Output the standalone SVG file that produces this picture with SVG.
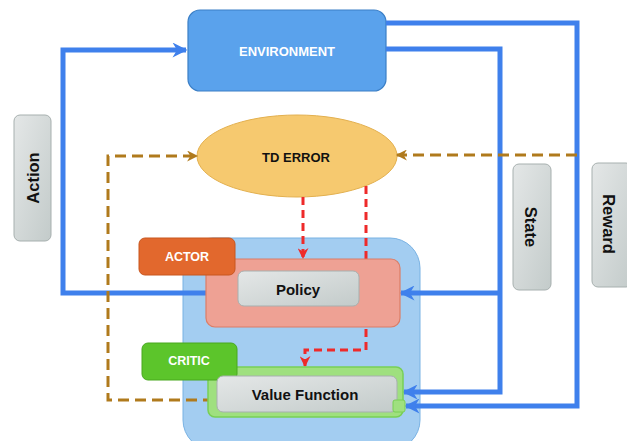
<svg xmlns="http://www.w3.org/2000/svg" width="627" height="441" viewBox="0 0 627 441">
<defs>
<linearGradient id="gray" x1="0" y1="0" x2="1" y2="1"><stop offset="0" stop-color="#e4e7e7"/><stop offset="1" stop-color="#c3cbca"/></linearGradient>
<marker id="ab" viewBox="0 0 10 10" refX="9" refY="5" markerWidth="16" markerHeight="15" markerUnits="userSpaceOnUse" orient="auto"><path d="M0,0 L10,5 L0,10 L3,5 Z" fill="#3f80ec"/></marker>
<marker id="ao" viewBox="0 0 10 10" refX="9" refY="5" markerWidth="12" markerHeight="11" markerUnits="userSpaceOnUse" orient="auto"><path d="M0,0 L10,5 L0,10 L3,5 Z" fill="#b07a1c"/></marker>
<marker id="ar" viewBox="0 0 10 10" refX="9" refY="5" markerWidth="11" markerHeight="11" markerUnits="userSpaceOnUse" orient="auto"><path d="M0,0 L10,5 L0,10 L3,5 Z" fill="#ee2a2a"/></marker>
</defs>
<style>
text{font-family:"Liberation Sans",Arial,sans-serif;font-weight:bold;text-anchor:middle;dominant-baseline:central}
.w{fill:#fff}
.k{fill:#111}
.gbox{fill:url(#gray);stroke:#a7b0af;stroke-width:1}
.blue{fill:none;stroke:#3f80ec;stroke-width:5;marker-end:url(#ab)}
.brown{fill:none;stroke:#b07a1c;stroke-width:3;stroke-dasharray:11 6;marker-end:url(#ao)}
.red{fill:none;stroke:#ee2a2a;stroke-width:3;stroke-dasharray:8 5;marker-end:url(#ar)}
</style>
<rect x="0" y="0" width="627" height="441" fill="#ffffff"/>
<g id="container"><rect x="183" y="238" width="237" height="212" rx="30" fill="#a3cdf1" stroke="#79b2e3" stroke-width="1"/></g>
<g id="environment"><rect x="188" y="10" width="198" height="81" rx="12" fill="#5aa2ec" stroke="#3b7fc6" stroke-width="1.2"/><text class="w" x="287" y="51" font-size="13">ENVIRONMENT</text></g>
<g id="td-error"><ellipse cx="297" cy="156" rx="100" ry="41" fill="#f6c96f" stroke="#e3b04f" stroke-width="1"/><text class="k" x="296" y="157" font-size="13">TD ERROR</text></g>
<g id="action"><rect x="14" y="115" width="37" height="126" rx="6" class="gbox"/><text class="k" x="0" y="0" font-size="16.5" transform="translate(33,178) rotate(-90)">Action</text></g>
<g id="state"><rect x="513" y="164" width="38" height="126" rx="6" class="gbox"/><text class="k" x="0" y="0" font-size="16.5" transform="translate(531,227) rotate(90)">State</text></g>
<g id="reward"><rect x="592" y="163" width="40" height="124" rx="6" class="gbox"/><text class="k" x="0" y="0" font-size="16.5" transform="translate(609,224) rotate(90)">Reward</text></g>
<g id="connectors">
<path class="blue" d="M206,293 H63 V50 H186"/>
<path class="blue" d="M386,23 H577 V406 H406"/>
<path class="blue" d="M386,49 H500 V392 H404"/>
<path class="blue" d="M500,293 H401"/>
<path class="brown" d="M577,155 H397"/>
<path class="brown" d="M214,400 H108 V156 H197"/>
<path class="red" d="M303,197 V258"/>
<path class="red" d="M366,186 V350 H305 V366"/>
</g>
<g id="actor"><rect x="206" y="259" width="194" height="68" rx="9" fill="#eea194" stroke="#dc7d66" stroke-width="1.2"/><rect x="139" y="238" width="96" height="37" rx="6" fill="#e2682d" stroke="#c8561f" stroke-width="1"/><text class="w" x="187" y="257" font-size="12.5">ACTOR</text></g>
<g id="policy"><rect x="238" y="271" width="121" height="35" rx="6" class="gbox"/><text class="k" x="298" y="289" font-size="15">Policy</text></g>
<g id="critic"><rect x="208" y="367" width="195" height="50" rx="7" fill="#9fe07f" stroke="#78cf55" stroke-width="1.5"/><rect x="142" y="343" width="95" height="37" rx="6" fill="#5cc52b" stroke="#48a81f" stroke-width="1"/><text class="w" x="189" y="361" font-size="12.5">CRITIC</text></g>
<g id="value-function"><rect x="217" y="376" width="180" height="36" rx="6" class="gbox"/><text class="k" x="305" y="394" font-size="15">Value Function</text><rect x="393" y="400" width="12" height="12" rx="2" fill="#9fe07f" stroke="#78cf55" stroke-width="1"/></g>
</svg>
